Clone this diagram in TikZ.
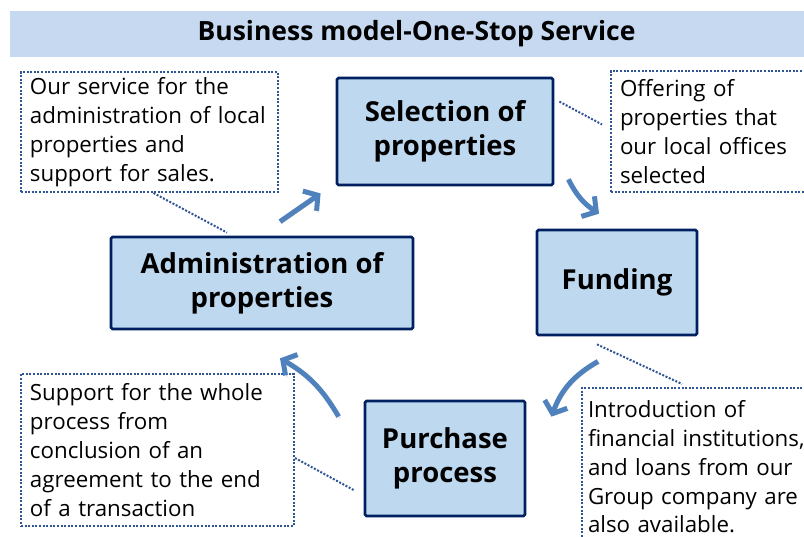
\documentclass[tikz,border=0pt]{standalone}
\usepackage{fontspec}
\setmainfont{Open Sans}
\usepackage{tikz}
\usetikzlibrary{arrows.meta,calc}
\definecolor{mynavy}{RGB}{0,32,96}
\definecolor{myboxblue}{RGB}{190,216,240}
\definecolor{mybandblue}{RGB}{198,217,241}
\definecolor{mydotblue}{RGB}{47,84,150}
\definecolor{myarrowblue}{RGB}{79,129,189}
\tikzset{every picture/.style={line width=0.75pt}}
\tikzset{
  stepbox/.style={draw=mynavy, line width=2.8pt, fill=myboxblue, rounded corners=1.5pt, align=center, inner sep=0pt, font=\fontsize{27.5}{34}\selectfont\bfseries},
  notebox/.style={draw=mydotblue, line width=2pt, dash pattern=on 2pt off 1.6pt, align=left, inner ysep=0pt, inner xsep=9pt, font=\fontsize{22.3}{28.8}\selectfont},
  callout/.style={draw=mydotblue, line width=2pt, dash pattern=on 2pt off 1.6pt},
  flow/.style={draw=myarrowblue, line width=5pt, -{Straight Barb[length=10pt,width=24pt]}, preaction={draw=black, draw opacity=0.18, transform canvas={xshift=1.5pt,yshift=-2pt}}}
}

\begin{document}
\begin{tikzpicture}[x=1pt,y=1pt,yscale=-1,xscale=1]
\clip (0,0) rectangle (804,537); %set diagram size

%Shape: Title band
\node[fill=mybandblue, minimum width=813pt, minimum height=46pt, inner sep=0pt, font=\fontsize{26.5}{30}\selectfont\bfseries] (title) at (416.5,34) {Business model-One-Stop Service};

%Shape: Rectangles
\node[stepbox, minimum width=216pt, minimum height=107pt] (sel) at (445,131.5) {Selection of\\properties};
\node[stepbox, minimum width=160pt, minimum height=105pt] (fund) at (617,282.5) {Funding};
\node[stepbox, minimum width=160pt, minimum height=115pt] (purch) at (445,458.5) {Purchase\\process};
\node[stepbox, minimum width=302pt, minimum height=92pt] (admin) at (262,283) {Administration of\\properties};

%Shape: Dotted notes
\node[notebox, text width=239pt, minimum height=120pt] (tlnote) at (149.5,132) {Our service for the\\administration of local\\properties and\\support for sales.};
\node[notebox, text width=206pt, minimum height=121pt] (trnote) at (723,131.5) {Offering of\\properties that\\our local offices\\selected};
\node[notebox, text width=255pt, minimum height=152pt] (blnote) at (157.5,450) {Support for the whole\\process from\\conclusion of an\\agreement to the end\\of a transaction};
\node[notebox, inner xsep=6pt, text width=246pt, minimum height=158pt] (brnote) at (711,467) {Introduction of\\financial institutions,\\and loans from our\\Group company are\\also available.};

%Straight Lines: callouts
\draw[callout] ($(tlnote.south)+(4,0)$) -- ($(admin.north)+(-35,-3)$);
\draw[callout] ($(sel.north east)+(5,25)$) -- ($(trnote.west)+(-8,-7)$);
\draw[callout] ($(fund.south)+(-20,8)$) -- ($(brnote.north west)+(101,-3)$);
\draw[callout] ($(blnote.east)+(0,8)$) -- ($(purch.west)+(-10,31.5)$);

%Curve Lines: cycle arrows
\draw[flow] ($(admin.north)+(18,-14)$) -- ($(sel.south west)+(-15,7)$);
\draw[flow] ($(sel.south east)+(14,-7)$) to[bend left=15] ($(fund.north)+(-18,-15)$);
\draw[flow] ($(fund.south)+(-19,25)$) to[bend left=20] ($(purch.north east)+(25,17)$);
\draw[flow] ($(purch.north west)+(-25,17)$) to[bend left=15] ($(admin.south)+(18,28)$);

\end{tikzpicture}
\end{document}
